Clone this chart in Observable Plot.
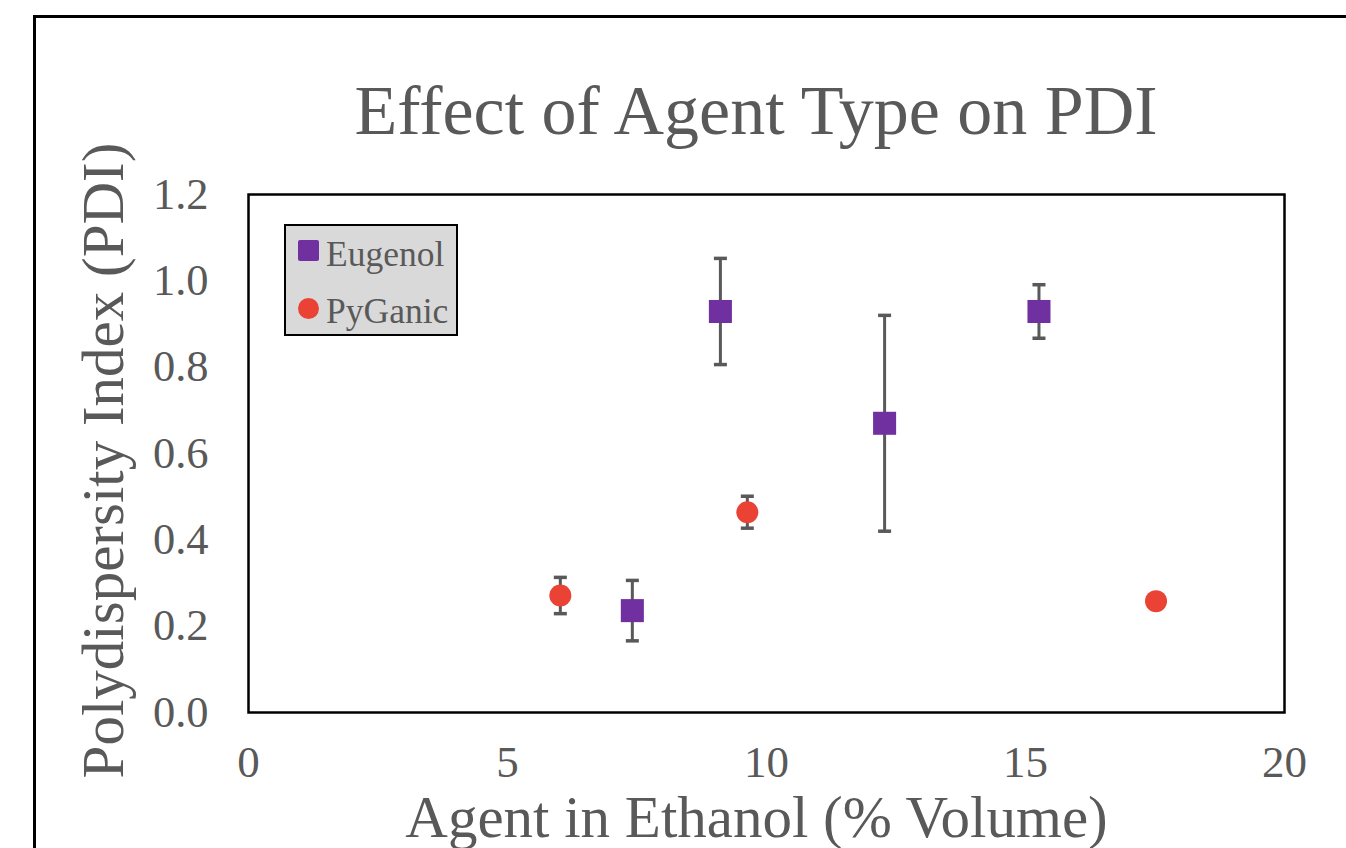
<!DOCTYPE html>
<html><head><meta charset="utf-8">
<script src="https://cdn.jsdelivr.net/npm/d3@7"></script>
<script src="https://cdn.jsdelivr.net/npm/@observablehq/plot@0.6"></script>
<style>
html,body{margin:0;padding:0;background:#fff;overflow:hidden;width:1346px;height:848px}
#wrap{position:relative;width:1346px;height:848px;font-family:"Liberation Serif","Times New Roman",serif;color:#595959}
#chart{position:absolute;left:0;top:0}
#border{position:absolute;left:33px;top:15px;width:1400px;height:900px;border:3px solid #000;box-sizing:border-box;pointer-events:none}
#title{position:absolute;left:0;top:76px;width:1512px;text-align:center;font-size:70px;line-height:1;white-space:nowrap}
#legend{position:absolute;left:284px;top:224px;width:174px;height:112px;background:#d9d9d9;border:2px solid #000;box-sizing:border-box}
.lg{position:absolute;left:40px;font-size:35.5px;line-height:1;white-space:nowrap}
.sw{position:absolute;left:12px;width:21px;height:21px}
</style>
</head><body>
<div id="wrap">
  <div id="chart"></div>
  <div id="title"></div>
  <div id="legend"></div>
  <div id="border"></div>
</div>
<script>
const titleText = "Effect of Agent Type on PDI";
const xLabel = "Agent in Ethanol (% Volume)";
const yLabel = "Polydispersity Index (PDI)";
const xTicks = [0, 5, 10, 15, 20];
const yTicks = [0, 0.2, 0.4, 0.6, 0.8, 1.0, 1.2];
const seriesNames = ["Eugenol", "PyGanic"];
const seriesColors = ["#7030A0", "#EA4335"];

const eugenolX = [7.41, 9.11, 12.28, 15.26];
const eugenolY = [0.236, 0.929, 0.670, 0.929];
const eugenolErr = [0.070, 0.123, 0.250, 0.062];

const pyganicX = [6.02, 9.63, 17.52];
const pyganicY = [0.271, 0.464, 0.258];
const pyganicErr = [0.042, 0.037, 0];

const eug = eugenolX.map((x, i) => ({x, y: eugenolY[i], err: eugenolErr[i]}));
const pyg = pyganicX.map((x, i) => ({x, y: pyganicY[i], err: pyganicErr[i]}));
const all = [...eug, ...pyg].filter(d => d.err > 0);
const caps = all.flatMap(d => [{x: d.x, y: d.y - d.err}, {x: d.x, y: d.y + d.err}]);

const capSymbol = {
  draw(ctx, size) {
    const r = Math.sqrt(size / Math.PI);
    ctx.moveTo(-r, 0);
    ctx.lineTo(r, 0);
  }
};

const ink = "#595959";
const font = "Liberation Serif";

const chart = Plot.plot({
  width: 1346, height: 848,
  marginLeft: 248, marginRight: 62, marginTop: 194, marginBottom: 136,
  style: {background: "transparent", fontFamily: font, color: ink},
  x: {domain: [0, 20]},
  y: {domain: [0, 1.2]},
  marks: [
    Plot.axisX({ticks: xTicks, tickSize: 0, tickPadding: 33, fontSize: 45, label: null, tickFormat: d3.format("d")}),
    Plot.axisY({ticks: yTicks, tickSize: 0, tickPadding: 40, fontSize: 44.5, label: null, tickFormat: d3.format(".1f")}),
    Plot.text([xLabel], {text: d => d, frameAnchor: "bottom", textAnchor: "middle", lineAnchor: "middle", dy: 106, dx: -10, fontSize: 59, fill: ink}),
    Plot.text([yLabel], {text: d => d, frameAnchor: "left", textAnchor: "middle", lineAnchor: "middle", rotate: -90, dx: -144, dy: 7, fontSize: 59, fill: ink}),
    Plot.frame({stroke: "#000", strokeWidth: 2.5}),
    Plot.ruleX(all, {x: "x", y1: d => d.y - d.err, y2: d => d.y + d.err, stroke: ink, strokeWidth: 3}),
    Plot.dot(caps, {x: "x", y: "y", symbol: capSymbol, r: 6.5, stroke: ink, strokeWidth: 3.5}),
    Plot.dot(eug, {x: "x", y: "y", symbol: "square", r: 13, fill: seriesColors[0], stroke: "none"}),
    Plot.dot(pyg, {x: "x", y: "y", symbol: "circle", r: 11, fill: seriesColors[1], stroke: "none"})
  ]
});
document.getElementById("chart").appendChild(chart);
document.getElementById("title").textContent = titleText;

const lg = document.getElementById("legend");
const rows = [{top: 14, text: 11, round: "2px"}, {top: 72, text: 68, round: "50%"}];
seriesNames.forEach((name, i) => {
  const sw = document.createElement("div");
  sw.className = "sw";
  sw.style.top = rows[i].top + "px";
  sw.style.background = seriesColors[i];
  sw.style.borderRadius = rows[i].round;
  lg.appendChild(sw);
  const t = document.createElement("div");
  t.className = "lg";
  t.style.top = rows[i].text + "px";
  t.textContent = name;
  lg.appendChild(t);
});
</script>
</body></html>
